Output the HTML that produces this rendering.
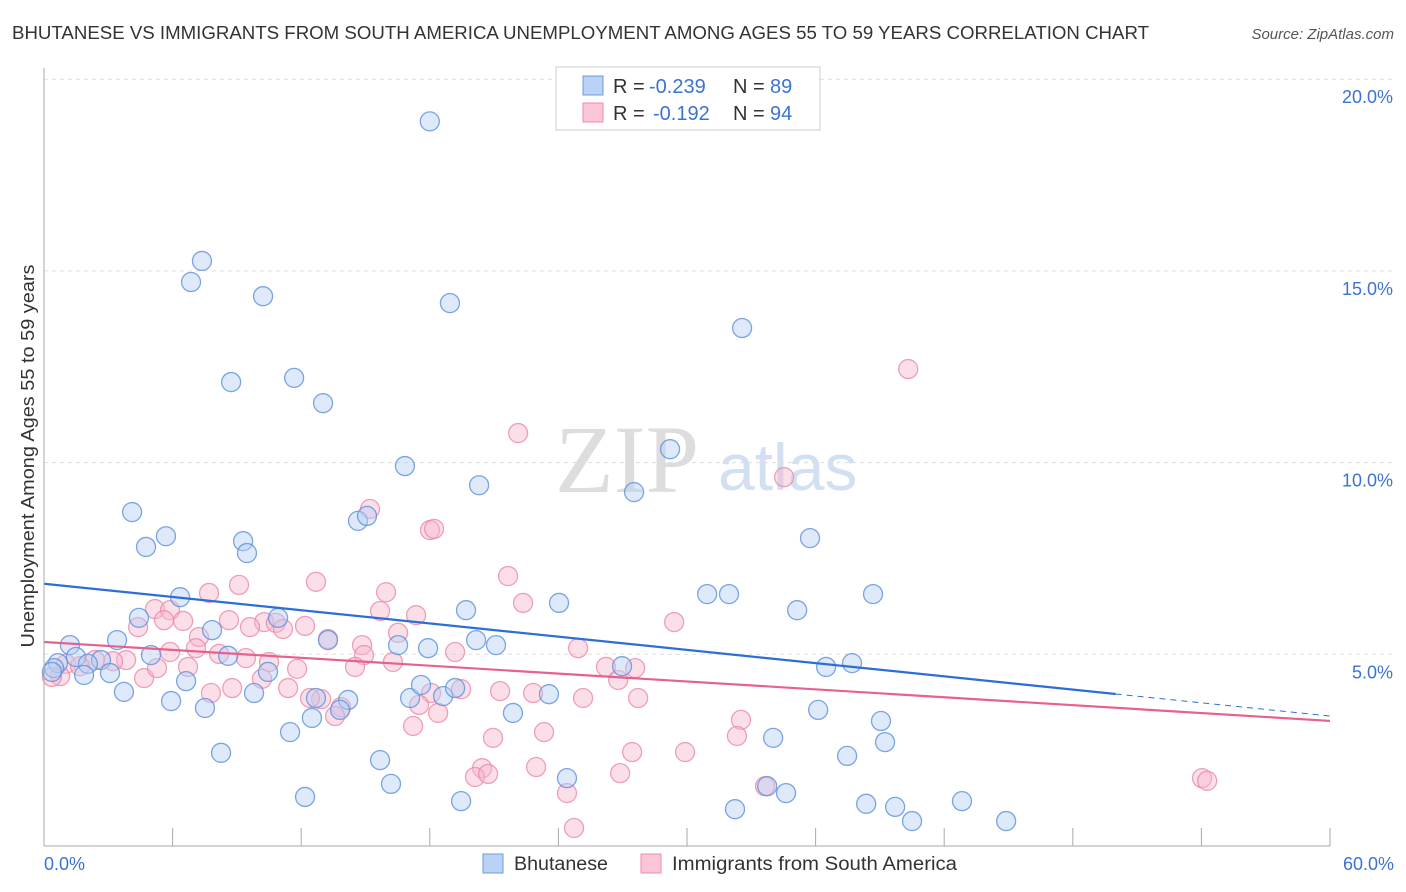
<!DOCTYPE html>
<html><head><meta charset="utf-8"><style>
body{margin:0;background:#fff;font-family:"Liberation Sans",sans-serif;}
#wrap{position:relative;width:1406px;height:892px;overflow:hidden;}
</style></head><body>
<div id="wrap">
<svg id="svg" width="1406" height="892" xmlns="http://www.w3.org/2000/svg" style="position:absolute;left:0;top:0">
<text x="12" y="39" font-size="18" fill="#333" textLength="1137" lengthAdjust="spacingAndGlyphs">BHUTANESE VS IMMIGRANTS FROM SOUTH AMERICA UNEMPLOYMENT AMONG AGES 55 TO 59 YEARS CORRELATION CHART</text>
<text x="1394" y="39" font-size="15" fill="#555" font-style="italic" text-anchor="end">Source: ZipAtlas.com</text>
<text x="555" y="492" font-size="96" fill="#ddd" font-family="Liberation Serif,serif">ZIP</text>
<text x="718" y="490" font-size="66" fill="#d3e0f3">atlas</text>
<text transform="translate(34,456) rotate(-90)" font-size="18" fill="#333" text-anchor="middle" textLength="383" lengthAdjust="spacingAndGlyphs">Unemployment Among Ages 55 to 59 years</text>
<g id="grid"></g><g id="pts"></g><g id="trend"></g>
<line x1="44" y1="68" x2="44" y2="846" stroke="#aaa" stroke-width="1"/>
<line x1="44" y1="846" x2="1330" y2="846" stroke="#aaa" stroke-width="1"/>
<text x="44" y="870" font-size="18" fill="#3b73d3">0.0%</text>
<text x="1394" y="870" font-size="18" fill="#3b73d3" text-anchor="end">60.0%</text>
<g>
<rect x="556" y="67" width="264" height="63" fill="#fff" stroke="#ccc"/>
<rect x="583" y="76" width="20" height="19" fill="#b9d2f5" stroke="#6a9be0"/>
<rect x="583" y="103" width="20" height="19" fill="#fac6d6" stroke="#ec8eaa"/>
<text x="613" y="93" font-size="20" fill="#333">R = <tspan fill="#3b73d3" x="649">-0.239</tspan><tspan x="733">N = </tspan><tspan fill="#3b73d3" x="770">89</tspan></text>
<text x="613" y="120" font-size="20" fill="#333">R = <tspan fill="#3b73d3" x="653">-0.192</tspan><tspan x="733">N = </tspan><tspan fill="#3b73d3" x="770">94</tspan></text>
</g>
<g>
<rect x="483" y="854" width="20" height="19" fill="#b9d2f5" stroke="#6a9be0"/>
<text x="514" y="870" font-size="19" fill="#333" textLength="94" lengthAdjust="spacingAndGlyphs">Bhutanese</text>
<rect x="641" y="854" width="20" height="19" fill="#fac6d6" stroke="#ec8eaa"/>
<text x="672" y="870" font-size="19" fill="#333" textLength="285" lengthAdjust="spacingAndGlyphs">Immigrants from South America</text>
</g>
</svg>
</div>
<script>
const yTicks=[5,10,15,20];
const xTicks=[0,6,12,18,24,30,36,42,48,54,60];
const blueX=[18.0,7.37,6.86,10.22,18.94,32.57,8.73,11.67,13.02,29.21,16.84,20.3,27.53,4.11,14.65,15.07,5.69,4.76,9.29,9.47,35.74,6.35,30.94,31.96,38.68,24.03,19.69,35.14,4.43,7.84,10.92,13.25,3.41,1.21,16.52,20.16,17.92,21.09,4.99,8.59,2.66,1.49,0.65,0.47,2.05,0.37,26.97,36.49,37.7,10.45,3.08,1.87,3.73,6.63,5.93,9.8,7.51,12.69,14.19,17.08,18.62,17.59,19.18,23.56,21.88,13.81,12.5,11.48,36.12,39.05,34.02,39.24,8.26,15.68,37.47,24.4,16.19,33.74,34.62,12.18,19.46,32.24,38.36,39.71,42.83,40.5,44.89];
const blueY=[18.9,15.26,14.71,14.34,14.16,13.51,12.10,12.21,11.55,10.35,9.91,9.41,9.23,8.71,8.48,8.61,8.08,7.80,7.95,7.64,8.03,6.49,6.57,6.57,6.57,6.34,6.15,6.15,5.95,5.63,5.95,5.37,5.37,5.24,5.24,5.37,5.16,5.24,4.98,4.96,4.85,4.93,4.77,4.64,4.75,4.54,4.69,4.67,4.77,4.54,4.51,4.46,4.02,4.30,3.78,3.99,3.60,3.86,3.81,3.86,3.91,4.20,4.12,3.96,3.47,3.55,3.34,2.97,3.55,3.26,2.82,2.71,2.43,2.24,2.35,1.77,1.62,1.56,1.38,1.28,1.17,0.96,1.10,1.02,1.17,0.65,0.65];
const pinkX=[40.32,22.12,34.53,15.21,18.01,18.2,21.65,12.69,9.1,15.96,7.7,22.35,5.18,5.88,15.68,17.36,5.6,6.49,4.39,10.27,9.61,10.82,12.18,8.63,11.15,29.4,7.23,16.52,13.25,14.84,24.92,7.09,5.88,8.17,9.42,19.18,14.93,10.5,3.83,14.51,16.28,11.81,6.72,3.22,2.38,1.03,1.68,0.75,0.37,4.67,5.27,26.22,27.58,26.79,10.17,11.39,8.78,7.79,21.28,22.82,18.06,19.46,12.93,12.41,25.15,27.72,17.5,13.86,18.39,13.58,32.52,17.22,23.33,32.33,20.95,27.44,29.91,20.44,22.96,20.11,20.72,26.88,54.03,54.27,33.64,24.4,24.73];
const pinkY=[12.44,10.77,9.62,8.79,8.24,8.27,7.04,6.89,6.81,6.62,6.6,6.34,6.18,6.15,6.13,6.02,5.89,5.87,5.71,5.84,5.71,5.82,5.74,5.89,5.66,5.84,5.45,5.56,5.40,5.24,5.16,5.16,5.06,5.01,4.90,5.06,4.98,4.80,4.85,4.67,4.80,4.62,4.67,4.82,4.85,4.75,4.69,4.43,4.41,4.38,4.64,4.67,4.64,4.33,4.36,4.12,4.12,3.99,4.04,3.99,3.99,4.09,3.83,3.86,3.86,3.86,3.68,3.62,3.47,3.39,3.29,3.13,2.97,2.87,2.82,2.45,2.45,2.03,2.06,1.80,1.88,1.90,1.77,1.70,1.56,1.38,0.47];
const blueTrend=[6.84,-0.0575];
const pinkTrend=[5.32,-0.0343];
const NS="http://www.w3.org/2000/svg";
const xs=v=>44+v/60*1286;
const ys=v=>846-v/5*191.7;
function mk(t,p,a){const e=document.createElementNS(NS,t);for(const k in a)e.setAttribute(k,a[k]);p.appendChild(e);return e;}
const grid=document.getElementById('grid'),pts=document.getElementById('pts'),tr=document.getElementById('trend');
yTicks.forEach(v=>{
 const l=mk('line',grid,{x1:44,x2:1394,y1:ys(v),y2:ys(v),stroke:'#ddd','stroke-dasharray':'4,4'});
 
 
 const t=mk('text',grid,{x:1393,y:ys(v)+24,'font-size':18,fill:'#3b73d3','text-anchor':'end'});
 t.textContent=v.toFixed(1)+'%';
 
 
});
xTicks.forEach(v=>{
 const l=mk('line',grid,{x1:xs(v),x2:xs(v),y1:828,y2:846,stroke:'#aaa'});
 
 
});
function series(X,Y,fill,stroke,name){
 X.forEach((x,i)=>{
  const c=mk('circle',pts,{cx:xs(x),cy:ys(Y[i]),r:9.5,fill:fill,'fill-opacity':0.45,stroke:stroke,'stroke-width':1.3,'stroke-opacity':0.8});
  
  
 });
}
series(pinkX,pinkY,'#f7b8cb','#ec8aa8','point-immigrants-south-america');
series(blueX,blueY,'#b5cff3','#5b90dd','point-bhutanese');
function line(a,b,x0,x1,col,dash,name){
 const l=mk('line',tr,{x1:xs(x0),y1:ys(a+b*x0),x2:xs(x1),y2:ys(a+b*x1),stroke:col,'stroke-width':dash?1:2.2});
 if(dash)l.setAttribute('stroke-dasharray','6,5');
 
 
}
line(blueTrend[0],blueTrend[1],0,50,'#2b6fd6',false,'trend-bhutanese');
line(blueTrend[0],blueTrend[1],50,60,'#2b6fd6',true,'trend-bhutanese-extension');
line(pinkTrend[0],pinkTrend[1],0,60,'#e6618e',false,'trend-immigrants-south-america');
</script>
</body></html>
